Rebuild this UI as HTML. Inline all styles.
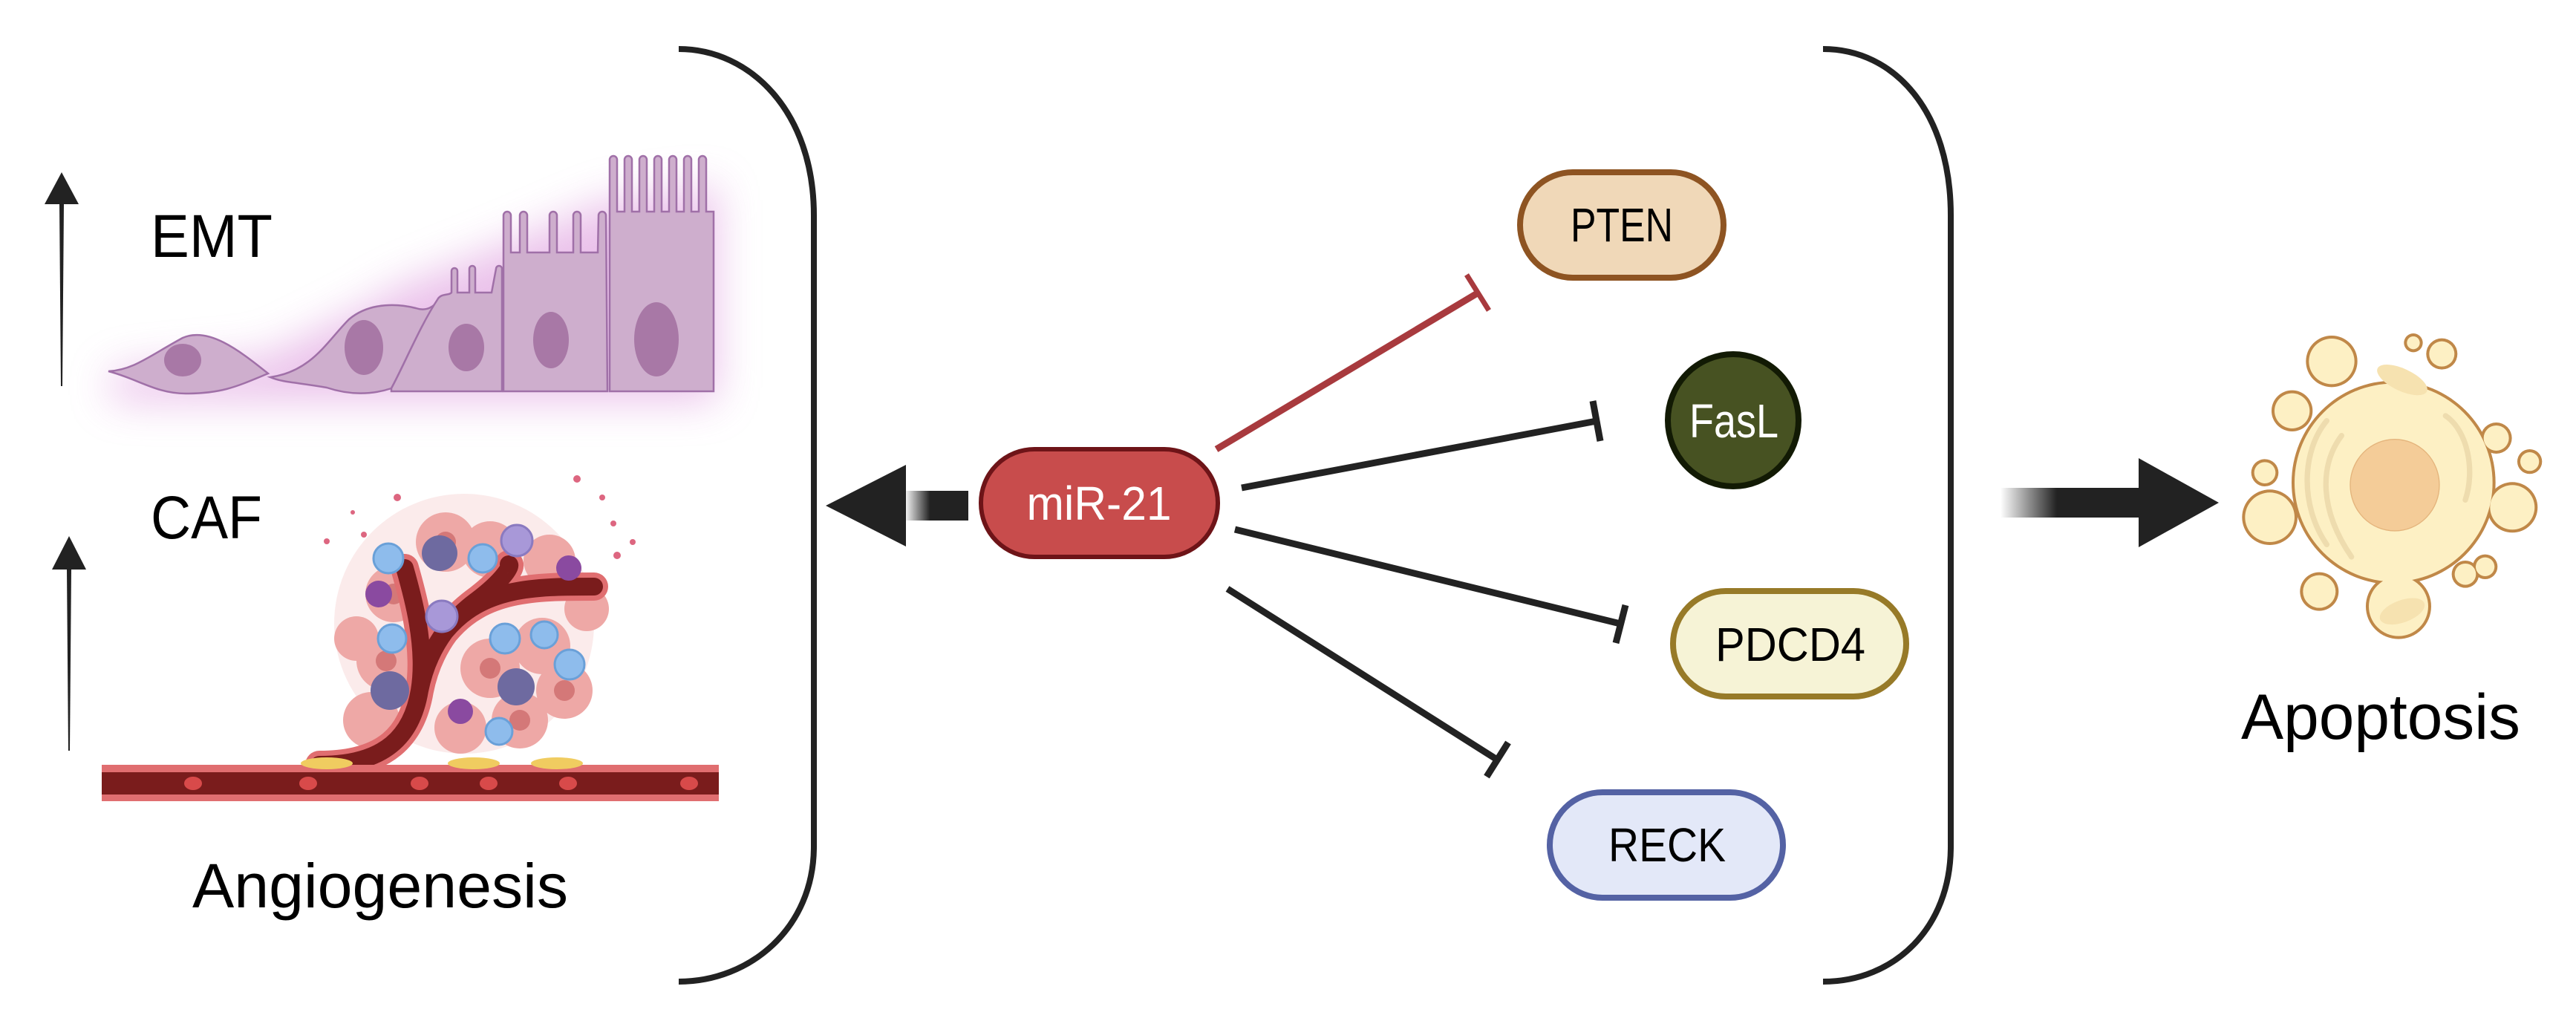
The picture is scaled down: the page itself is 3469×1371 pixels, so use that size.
<!DOCTYPE html>
<html><head><meta charset="utf-8"><style>
html,body{margin:0;padding:0;background:#fff;}
svg{display:block;}
text{font-family:"Liberation Sans",sans-serif;}
</style></head><body>
<svg width="3469" height="1371" viewBox="0 0 3469 1371" xmlns="http://www.w3.org/2000/svg">
<defs>
<filter id="blur" x="-20%" y="-50%" width="140%" height="200%"><feGaussianBlur stdDeviation="28"/></filter>
<linearGradient id="gl" x1="0" x2="1" y1="0" y2="0"><stop offset="0" stop-color="#222"/><stop offset="0.6" stop-color="#222"/><stop offset="1" stop-color="#222" stop-opacity="0"/></linearGradient>
<linearGradient id="gr" x1="0" x2="1" y1="0" y2="0"><stop offset="0" stop-color="#222" stop-opacity="0"/><stop offset="0.4" stop-color="#222"/><stop offset="1" stop-color="#222"/></linearGradient>
</defs>

<path d="M914,66 C1010,66 1096,150 1096,290 L1096,1140 C1096,1250 1010,1322 914,1322" fill="none" stroke="#222" stroke-width="8"/>
<path d="M2455,66 C2551,66 2627,150 2627,290 L2627,1140 C2627,1250 2551,1322 2455,1322" fill="none" stroke="#222" stroke-width="8"/>

<polygon points="83,232 106,275 60,275" fill="#222"/>
<polygon points="80,275 86,275 84,520 82,520" fill="#222"/>
<polygon points="93,722 116,767 70,767" fill="#222"/>
<polygon points="90,767 96,767 94,1011 92,1011" fill="#222"/>

<text x="203" y="346" font-size="82" textLength="164" lengthAdjust="spacingAndGlyphs">EMT</text>
<text x="203" y="725" font-size="82" textLength="150" lengthAdjust="spacingAndGlyphs">CAF</text>
<text x="259" y="1222" font-size="84" textLength="506" lengthAdjust="spacingAndGlyphs">Angiogenesis</text>

<g filter="url(#blur)" opacity="0.7">
<path d="M150,500 L360,480 L500,410 L530,390 L680,330 L820,270 L965,250 L965,540 L150,540 Z" fill="#e2a8e2"/>
</g>
<g stroke="#a070a8" stroke-width="2.5" fill="#ceaecd">
<path d="M146,500 C180,498 200,480 246,455 C280,440 320,470 361,503 C320,520 300,530 250,530 C210,530 185,510 146,500 Z"/>
<path d="M364,508 C420,500 440,460 470,430 C500,405 540,410 560,415 C575,420 585,412 590,405 C560,450 545,490 527,523 C500,532 470,532 440,522 C400,515 380,515 364,508 Z"/>
<path d="M527,523 C545,490 565,440 590,402 C595,395 605,398 608,394 L608,365 A4,4 0 0 1 616,365 L616,394 L632,394 L632,362 A4,4 0 0 1 640,362 L640,394 L662,394 L668,362 A4,4 0 0 1 676,362 L676,527 L527,527 Z"/>
<path d="M678,527 L678,290 A5,5 0 0 1 688,290 L688,340 L700,340 L700,290 A5,5 0 0 1 710,290 L710,340 L740,340 L740,290 A5,5 0 0 1 750,290 L750,340 L772,340 L772,290 A5,5 0 0 1 782,290 L782,340 L805,340 L806,290 A5,5 0 0 1 816,290 L818,527 Z"/>
<path d="M821,527 L821,215 A5,5 0 0 1 831,215 L831,285 L841,285 L841,215 A5,5 0 0 1 851,215 L851,285 L861,285 L861,215 A5,5 0 0 1 871,215 L871,285 L881,285 L881,215 A5,5 0 0 1 891,215 L891,285 L901,285 L901,215 A5,5 0 0 1 911,215 L911,285 L921,285 L921,215 A5,5 0 0 1 931,215 L931,285 L941,285 L941,215 A5,5 0 0 1 951,215 L951,285 L961,285 L961,527 Z"/>
</g>
<g fill="#a878a6">
<ellipse cx="246" cy="485" rx="25" ry="22"/>
<ellipse cx="490" cy="468" rx="26" ry="37"/>
<ellipse cx="628" cy="468" rx="24" ry="32"/>
<ellipse cx="742" cy="458" rx="24" ry="38"/>
<ellipse cx="884" cy="457" rx="30" ry="50"/>
</g>

<g>
<ellipse cx="625" cy="840" rx="175" ry="175" fill="#f8d8d8" opacity="0.5"/>
<g fill="#eea8a6">
<circle cx="530" cy="800" r="38"/><circle cx="600" cy="730" r="40"/><circle cx="660" cy="740" r="38"/><circle cx="520" cy="890" r="40"/><circle cx="500" cy="970" r="38"/><circle cx="660" cy="900" r="40"/><circle cx="730" cy="870" r="38"/><circle cx="760" cy="930" r="38"/><circle cx="700" cy="970" r="38"/><circle cx="740" cy="755" r="35"/><circle cx="620" cy="980" r="35"/><circle cx="480" cy="860" r="30"/><circle cx="790" cy="820" r="30"/>
</g>
<g fill="#d47878"><circle cx="530" cy="800" r="14"/><circle cx="600" cy="730" r="14"/><circle cx="520" cy="890" r="14"/><circle cx="660" cy="900" r="14"/><circle cx="760" cy="930" r="14"/><circle cx="700" cy="970" r="14"/></g>
<g fill="none" stroke-linecap="round">
<path d="M430,1030 C520,1030 555,990 565,930 C575,870 555,800 545,765 M565,930 C575,880 600,840 640,810 C680,780 690,760 685,760 M600,850 C650,790 720,790 800,790" stroke="#e06e70" stroke-width="38"/>
<path d="M430,1030 C520,1030 555,990 565,930 C575,870 555,800 545,765 M565,930 C575,880 600,840 640,810 C680,780 690,760 685,760 M600,850 C650,790 720,790 800,790" stroke="#7a1c1c" stroke-width="24"/>
</g>
<g fill="#8ebcec" stroke="#6aa0d8" stroke-width="3">
<circle cx="523" cy="752" r="20"/><circle cx="650" cy="752" r="19"/><circle cx="528" cy="860" r="19"/><circle cx="680" cy="860" r="20"/><circle cx="733" cy="855" r="18"/><circle cx="767" cy="895" r="20"/><circle cx="672" cy="985" r="18"/>
</g>
<g fill="#a898d8" stroke="#8a7ac0" stroke-width="3"><circle cx="696" cy="728" r="21"/><circle cx="595" cy="830" r="21"/></g>
<g fill="#6e6aa0"><circle cx="592" cy="745" r="24"/><circle cx="525" cy="930" r="26"/><circle cx="695" cy="925" r="25"/></g>
<g fill="#8a4aa0"><circle cx="510" cy="800" r="18"/><circle cx="766" cy="765" r="17"/><circle cx="620" cy="958" r="17"/></g>
<g fill="#dd6680"><circle cx="440" cy="729" r="4"/><circle cx="535" cy="670" r="5"/><circle cx="777" cy="645" r="5"/><circle cx="811" cy="670" r="4"/><circle cx="831" cy="748" r="5"/><circle cx="852" cy="730" r="4"/><circle cx="826" cy="705" r="4"/><circle cx="490" cy="720" r="4"/><circle cx="475" cy="690" r="3"/></g>
<rect x="137" y="1030" width="831" height="49" fill="#e06e70"/>
<rect x="137" y="1040" width="831" height="30" fill="#7a1c1c"/>
<g fill="#d84a4a"><ellipse cx="260" cy="1055" rx="12" ry="9"/><ellipse cx="415" cy="1055" rx="12" ry="9"/><ellipse cx="565" cy="1055" rx="12" ry="9"/><ellipse cx="658" cy="1055" rx="12" ry="9"/><ellipse cx="765" cy="1055" rx="12" ry="9"/><ellipse cx="928" cy="1055" rx="12" ry="9"/></g>
<g fill="#f0cc60"><ellipse cx="440" cy="1028" rx="35" ry="8"/><ellipse cx="638" cy="1028" rx="35" ry="8"/><ellipse cx="750" cy="1028" rx="35" ry="8"/></g>
</g>

<rect x="1218" y="661" width="86" height="40" fill="url(#gl)" transform="rotate(180 1261 681)"/>
<polygon points="1112,681 1220,626 1220,736" fill="#222"/>

<rect x="1321" y="605" width="319" height="145" rx="72" fill="#c84c4c" stroke="#6e1418" stroke-width="6"/>
<text x="1480" y="700" font-size="64" fill="#fff" text-anchor="middle" textLength="195" lengthAdjust="spacingAndGlyphs">miR-21</text>

<g stroke-width="9" fill="none">
<line x1="1638" y1="605" x2="1991" y2="394" stroke="#a83a3e"/>
<line x1="1975" y1="370" x2="2005" y2="418" stroke="#a83a3e" stroke-width="7"/>
<line x1="1672" y1="657" x2="2150" y2="567" stroke="#222"/>
<line x1="2145" y1="540" x2="2155" y2="594" stroke="#222"/>
<line x1="1663" y1="713" x2="2182" y2="840" stroke="#222"/>
<line x1="2189" y1="815" x2="2176" y2="866" stroke="#222"/>
<line x1="1653" y1="793" x2="2016" y2="1023" stroke="#222"/>
<line x1="2031" y1="1000" x2="2002" y2="1046" stroke="#222"/>
</g>

<rect x="2047" y="232" width="274" height="142" rx="71" fill="#f0d8b8" stroke="#8e5422" stroke-width="8"/>
<text x="2184" y="325" font-size="64" text-anchor="middle" textLength="138" lengthAdjust="spacingAndGlyphs">PTEN</text>
<ellipse cx="2334" cy="566" rx="88" ry="89" fill="#475222" stroke="#121a04" stroke-width="8"/>
<text x="2335" y="589" font-size="64" fill="#fff" text-anchor="middle" textLength="120" lengthAdjust="spacingAndGlyphs">FasL</text>
<rect x="2253" y="796" width="314" height="142" rx="71" fill="#f6f3d6" stroke="#977a28" stroke-width="8"/>
<text x="2411" y="890" font-size="64" text-anchor="middle" textLength="202" lengthAdjust="spacingAndGlyphs">PDCD4</text>
<rect x="2087" y="1067" width="314" height="142" rx="71" fill="#e3e8f8" stroke="#5462a4" stroke-width="8"/>
<text x="2245" y="1160" font-size="64" text-anchor="middle" textLength="158" lengthAdjust="spacingAndGlyphs">RECK</text>

<rect x="2694" y="657" width="190" height="40" fill="url(#gr)"/>
<polygon points="2988,677 2880,617 2880,737" fill="#222"/>

<g transform="translate(2960,420) scale(0.3333)">
<g fill="#c08848">
<circle cx="790" cy="690" r="412"/><circle cx="540" cy="200" r="104"/><circle cx="290" cy="830" r="112"/><circle cx="810" cy="1190" r="132"/><circle cx="1270" cy="790" r="102"/><circle cx="1080" cy="1060" r="55"/>
<circle cx="870" cy="125" r="38"/><circle cx="985" cy="170" r="63"/><circle cx="380" cy="400" r="83"/><circle cx="270" cy="650" r="55"/><circle cx="1205" cy="510" r="63"/><circle cx="1340" cy="605" r="50"/><circle cx="1160" cy="1030" r="50"/><circle cx="490" cy="1130" r="78"/>
</g>
<g fill="#fdf0c4">
<circle cx="790" cy="690" r="400"/><circle cx="540" cy="200" r="92"/><circle cx="290" cy="830" r="100"/><circle cx="810" cy="1190" r="120"/><circle cx="1270" cy="790" r="90"/><circle cx="1080" cy="1060" r="43"/>
<circle cx="870" cy="125" r="26"/><circle cx="985" cy="170" r="51"/><circle cx="380" cy="400" r="71"/><circle cx="270" cy="650" r="43"/><circle cx="1205" cy="510" r="51"/><circle cx="1340" cy="605" r="38"/><circle cx="1160" cy="1030" r="38"/><circle cx="490" cy="1130" r="66"/>
</g>
<g fill="none" stroke="#eedcae" stroke-width="22" stroke-linecap="round">
<path d="M520,440 C420,560 410,780 520,940"/><path d="M580,500 C490,620 490,800 620,990"/><path d="M1000,420 C1090,480 1120,640 1080,760"/>
</g>
<ellipse cx="795" cy="700" rx="180" ry="185" fill="#f4cc98" stroke="#e4b47c" stroke-width="4"/>
<ellipse cx="825" cy="275" rx="110" ry="45" fill="#f6e2b0" transform="rotate(25 825 275)"/>
<ellipse cx="825" cy="1210" rx="95" ry="45" fill="#f6e2b0" transform="rotate(-20 825 1210)"/>
</g>
<text x="3206" y="995" font-size="86" text-anchor="middle" textLength="376" lengthAdjust="spacingAndGlyphs">Apoptosis</text>
</svg>
</body></html>
